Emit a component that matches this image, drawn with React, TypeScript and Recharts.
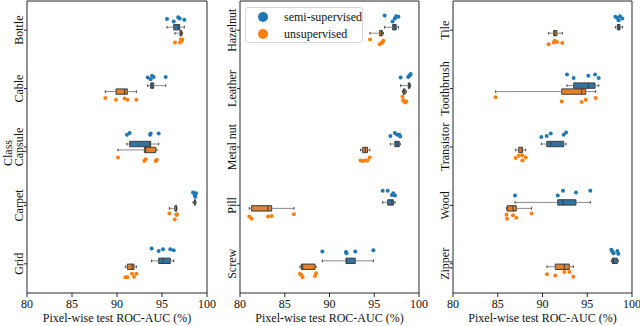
import React from 'react';
import { ScatterChart, Scatter, XAxis, YAxis, ReferenceArea, ReferenceLine } from 'recharts';

const classes = [
  'Bottle', 'Cable', 'Capsule', 'Carpet', 'Grid',
  'Hazelnut', 'Leather', 'Metal nut', 'Pill', 'Screw',
  'Tile', 'Toothbrush', 'Transistor', 'Wood', 'Zipper',
];

// pixel-wise ROC-AUC of the 5 runs per class
const semiScores = [
  [95.56, 96.3, 96.8, 96.97, 97.48],
  [93.41, 93.74, 93.89, 94.08, 95.41],
  [91.11, 91.41, 93.67, 93.74, 94.63],
  [98.45, 98.6, 98.65, 98.7, 98.78],
  [93.85, 94.63, 95.11, 95.92, 96.3],
  [96.16, 97.05, 97.3, 97.45, 97.7],
  [97.95, 98.8, 98.92, 98.99, 99.07],
  [96.8, 97.3, 97.55, 97.8, 97.9],
  [95.94, 96.5, 96.98, 97.13, 97.32],
  [89.2, 91.84, 91.9, 92.88, 94.9],
  [98.14, 98.36, 98.51, 98.66, 98.92],
  [92.74, 93.48, 95.12, 95.87, 96.28],
  [89.87, 90.47, 90.92, 92.37, 92.63],
  [86.93, 91.7, 92.29, 93.74, 95.34],
  [97.69, 97.8, 97.95, 98.36, 98.47],
];

const unsupScores = [
  [96.44, 97.0, 97.1, 97.2, 97.26],
  [88.7, 89.89, 90.85, 91.15, 92.15],
  [90.11, 93.04, 93.19, 94.3, 94.44],
  [95.82, 96.42, 96.6, 96.63, 96.66],
  [90.93, 91.15, 91.67, 91.89, 92.15],
  [94.53, 95.6, 95.8, 95.9, 96.02],
  [98.15, 98.25, 98.35, 98.45, 98.6],
  [93.48, 93.7, 94.0, 94.25, 94.5],
  [81.04, 81.3, 83.13, 83.54, 86.03],
  [86.7, 86.85, 87.0, 88.38, 88.5],
  [90.69, 91.25, 91.36, 91.62, 92.21],
  [84.77, 92.15, 94.38, 94.83, 95.94],
  [87.0, 87.34, 87.71, 87.75, 88.12],
  [85.98, 86.05, 86.7, 87.07, 88.78],
  [90.5, 91.43, 92.44, 93.0, 93.44],
];

// strip-plot jitter (fraction of a class row)
const semiJitter = [
  [-0.19, -0.15, -0.22, -0.2, -0.18],
  [-0.19, -0.16, -0.22, -0.2, -0.2],
  [-0.21, -0.24, -0.21, -0.23, -0.23],
  [-0.22, -0.2, -0.17, -0.15, -0.21],
  [-0.26, -0.22, -0.25, -0.25, -0.23],
  [-0.25, -0.15, -0.2, -0.24, -0.23],
  [-0.19, -0.2, -0.22, -0.23, -0.25],
  [-0.19, -0.24, -0.21, -0.21, -0.18],
  [-0.25, -0.25, -0.18, -0.21, -0.17],
  [-0.21, -0.2, -0.18, -0.21, -0.23],
  [-0.23, -0.21, -0.17, -0.24, -0.2],
  [-0.24, -0.18, -0.22, -0.24, -0.18],
  [-0.17, -0.19, -0.23, -0.21, -0.25],
  [-0.17, -0.17, -0.25, -0.22, -0.25],
  [-0.24, -0.21, -0.18, -0.22, -0.17],
];

const unsupJitter = [
  [0.21, 0.21, 0.16, 0.18, 0.16],
  [0.16, 0.19, 0.17, 0.19, 0.19],
  [0.18, 0.24, 0.21, 0.24, 0.22],
  [0.14, 0.24, 0.16, 0.16, 0.15],
  [0.23, 0.23, 0.17, 0.22, 0.17],
  [0.16, 0.24, 0.22, 0.21, 0.18],
  [0.14, 0.2, 0.22, 0.24, 0.22],
  [0.23, 0.24, 0.23, 0.23, 0.18],
  [0.19, 0.23, 0.19, 0.18, 0.15],
  [0.17, 0.19, 0.23, 0.21, 0.16],
  [0.24, 0.21, 0.18, 0.2, 0.22],
  [0.15, 0.22, 0.23, 0.19, 0.16],
  [0.19, 0.15, 0.14, 0.23, 0.18],
  [0.16, 0.23, 0.17, 0.21, 0.14],
  [0.18, 0.2, 0.14, 0.14, 0.22],
];

const xTicks = [80, 85, 90, 95, 100];
const rowTicks = [0.5, 1.5, 2.5, 3.5, 4.5];

const SEMI_DOT = '#1f77b4';
const UNSUP_DOT = '#ff7f0e';
const SEMI_BOX = '#3274a1';
const UNSUP_BOX = '#e1812c';
const EDGE = '#3d3d3d';
const WHISKER = '#8a8a8a';
const FONT = 'Liberation Serif';

const PANEL_LEFT = [0, 212, 425];
const YAXIS_W = [27, 28, 28];

function quantile(s: number[], p: number) {
  const pos = (s.length - 1) * p;
  const lo = Math.floor(pos);
  const hi = Math.ceil(pos);
  return s[lo] + (s[hi] - s[lo]) * (pos - lo);
}

function boxStats(values: number[]) {
  const s = [...values].sort((a, b) => a - b);
  return { lo: s[0], q1: quantile(s, 0.25), med: quantile(s, 0.5), q3: quantile(s, 0.75), hi: s[s.length - 1] };
}

function drawBox(values: number[], center: number, side: number, color: string, key: string) {
  const b = boxStats(values);
  const y1 = center + side * 0.005;
  const y2 = center + side * 0.097;
  const mid = center + side * 0.051;
  const cap = 0.022;
  const seg = (k: string, xa: number, ya: number, xb: number, yb: number, stroke: string) => (
    <ReferenceLine key={key + k} segment={[{ x: xa, y: ya }, { x: xb, y: yb }]} stroke={stroke} strokeWidth={1} ifOverflow="visible" />
  );
  return [
    seg('wl', b.lo, mid, b.q1, mid, WHISKER),
    seg('wh', b.q3, mid, b.hi, mid, WHISKER),
    seg('cl', b.lo, mid - cap, b.lo, mid + cap, EDGE),
    seg('ch', b.hi, mid - cap, b.hi, mid + cap, EDGE),
    <ReferenceArea key={key + 'box'} x1={b.q1} x2={b.q3} y1={y1} y2={y2} fill={color} fillOpacity={1} stroke={EDGE} strokeWidth={1} ifOverflow="visible" />,
    seg('md', b.med, y1, b.med, y2, EDGE),
  ];
}

function CategoryTick(props: any) {
  const { x, y, payload, names } = props;
  const name = names[Math.floor(payload.value)];
  const bx = x + 1;
  return (
    <text x={bx} y={y} transform={`rotate(-90, ${bx}, ${y})`} textAnchor="middle" fontFamily={FONT} fontSize={12} fill="#111">
      {name}
    </text>
  );
}

const dot = (color: string) => (p: any) => <circle cx={p.cx} cy={p.cy} r={2} fill={color} />;

function Panel({ idx }: { idx: number }) {
  const names = classes.slice(idx * 5, idx * 5 + 5);
  const semiPts: { x: number; y: number }[] = [];
  const unsupPts: { x: number; y: number }[] = [];
  names.forEach((_, k) => {
    const i = idx * 5 + k;
    semiScores[i].forEach((v, j) => semiPts.push({ x: v, y: k + 0.5 + semiJitter[i][j] }));
    unsupScores[i].forEach((v, j) => unsupPts.push({ x: v, y: k + 0.5 + unsupJitter[i][j] }));
  });
  const boxes = names.flatMap((_, k) => [
    ...drawBox(semiScores[idx * 5 + k], k + 0.5, -1, SEMI_BOX, `s${k}`),
    ...drawBox(unsupScores[idx * 5 + k], k + 0.5, 1, UNSUP_BOX, `u${k}`),
  ]);

  return (
    <div style={{ position: 'absolute', left: PANEL_LEFT[idx], top: 0 }}>
      <ScatterChart width={222} height={326} margin={{ top: 1, right: 15, bottom: 0, left: 0 }}>
        <XAxis
          type="number"
          dataKey="x"
          domain={[80, 100]}
          ticks={xTicks}
          interval={0}
          axisLine={false}
          tickSize={4}
          tickLine={{ stroke: '#262626' }}
          tick={{ fontFamily: FONT, fontSize: 12, fill: '#111' }}
          height={33}
          label={{ value: 'Pixel-wise test ROC-AUC (%)', position: 'insideBottom', offset: 4, fontFamily: FONT, fontSize: 12, fill: '#111' }}
        />
        <YAxis
          type="number"
          dataKey="y"
          domain={[0, 5]}
          reversed
          ticks={rowTicks}
          interval={0}
          width={YAXIS_W[idx]}
          axisLine={false}
          tickSize={3}
          tickLine={{ stroke: '#262626' }}
          tick={(p: any) => <CategoryTick {...p} names={names} />}
        />
        {boxes}
        <ReferenceArea x1={80} x2={100} y1={0} y2={5} fill="none" fillOpacity={0} stroke="#262626" strokeWidth={1} ifOverflow="visible" />
        <Scatter data={semiPts} fill={SEMI_DOT} shape={dot(SEMI_DOT)} isAnimationActive={false} />
        <Scatter data={unsupPts} fill={UNSUP_DOT} shape={dot(UNSUP_DOT)} isAnimationActive={false} />
      </ScatterChart>
    </div>
  );
}

export default function App() {
  return (
    <div style={{ position: 'absolute', left: 0, top: 0, width: 640, height: 326, background: '#fff', fontFamily: FONT }}>
      <Panel idx={0} />
      <Panel idx={1} />
      <Panel idx={2} />
      <div
        style={{
          position: 'absolute', left: -12, top: 146, width: 40, height: 14, lineHeight: '14px',
          fontSize: 12, color: '#111', textAlign: 'center', transform: 'rotate(-90deg)',
        }}
      >
        Class
      </div>
      <div
        style={{
          position: 'absolute', left: 245, top: 7, width: 118, height: 36, boxSizing: 'border-box',
          border: '1px solid #d6d6d6', borderRadius: 3, background: 'rgba(255,255,255,0.85)', fontSize: 12, color: '#111',
          whiteSpace: 'nowrap',
        }}
      >
        {[
          { name: 'semi-supervised', color: SEMI_DOT },
          { name: 'unsupervised', color: UNSUP_DOT },
        ].map((e) => (
          <div key={e.name} style={{ display: 'flex', alignItems: 'center', height: 16, marginTop: 1 }}>
            <span style={{ display: 'inline-block', width: 10, height: 10, borderRadius: '50%', background: e.color, marginLeft: 12, marginRight: 16, flexShrink: 0 }} />
            <span>{e.name}</span>
          </div>
        ))}
      </div>
    </div>
  );
}
